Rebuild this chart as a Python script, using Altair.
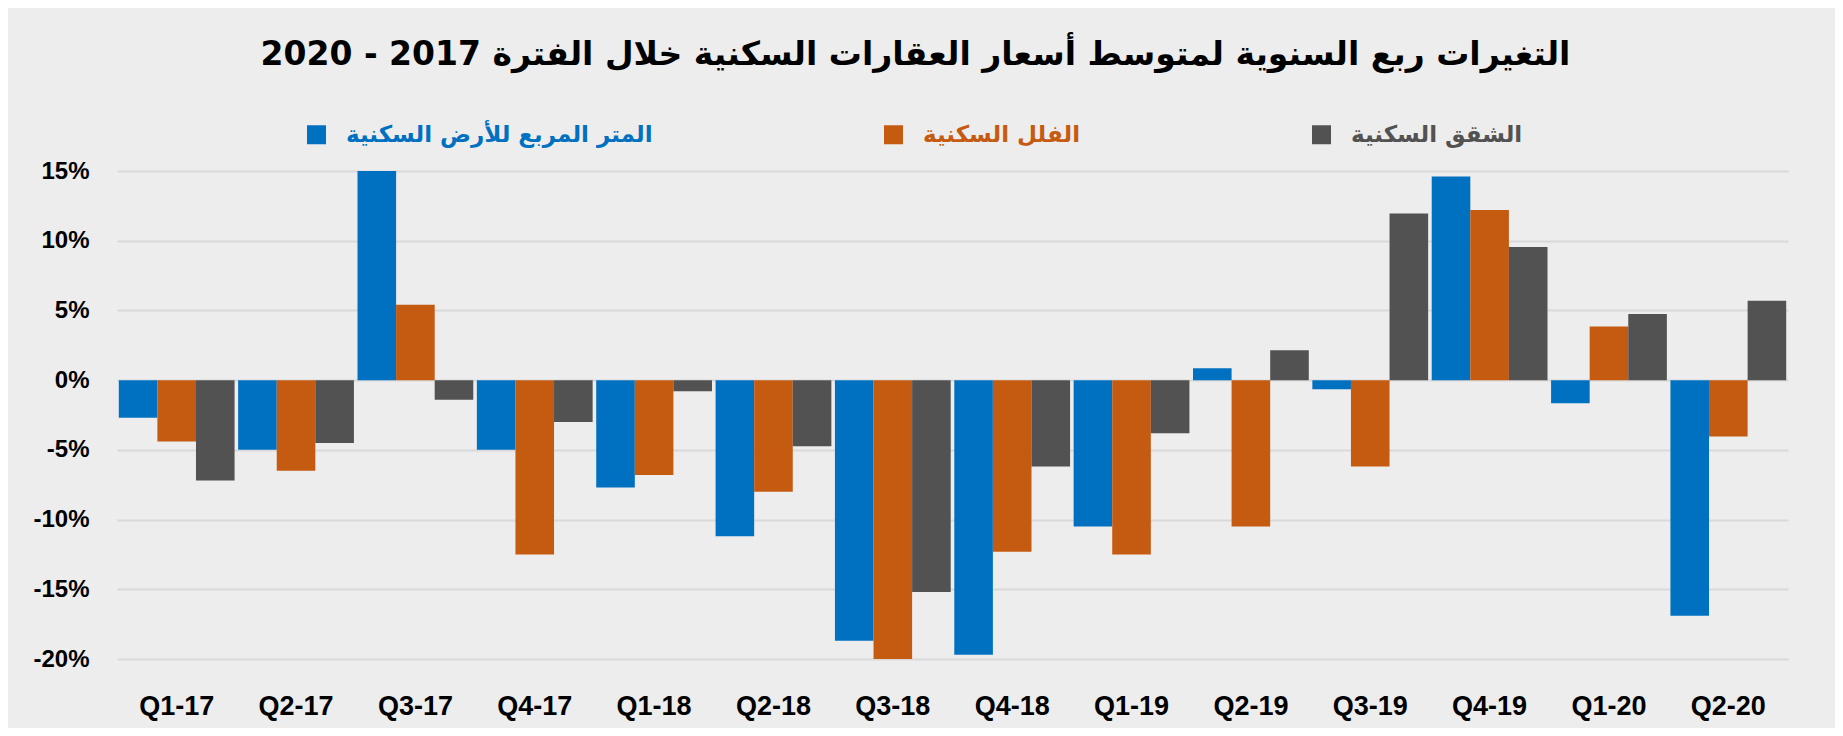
import altair as alt
import pandas as pd

quarters = ["Q1-17", "Q2-17", "Q3-17", "Q4-17", "Q1-18", "Q2-18", "Q3-18",
            "Q4-18", "Q1-19", "Q2-19", "Q3-19", "Q4-19", "Q1-20", "Q2-20"]
series = ["المتر المربع للأرض السكنية", "الفلل السكنية", "الشقق السكنية"]
land = [-2.7, -5.0, 15.0, -5.0, -7.7, -11.2, -18.7, -19.7, -10.5, 0.85, -0.65, 14.6, -1.65, -16.9]
villas = [-4.4, -6.5, 5.4, -12.5, -6.8, -8.0, -20.0, -12.3, -12.5, -10.5, -6.2, 12.2, 3.85, -4.05]
apartments = [-7.2, -4.5, -1.4, -3.0, -0.8, -4.75, -15.2, -6.2, -3.8, 2.15, 11.95, 9.55, 4.75, 5.7]
colors = ["#0070C0", "#C55A11", "#525252"]
y_ticks = [-20, -15, -10, -5, 0, 5, 10, 15]
title_text = "التغيرات ربع السنوية لمتوسط أسعار العقارات السكنية خلال الفترة 2017 - 2020"

rows = []
for name, vals in zip(series, [land, villas, apartments]):
    for q, v in zip(quarters, vals):
        rows.append({"quarter": q, "series": name, "value": v})
df = pd.DataFrame(rows)

label_color_expr = (
    f"datum.value == '{series[0]}' ? '{colors[0]}' : "
    f"datum.value == '{series[1]}' ? '{colors[1]}' : '{colors[2]}'"
)

chart = alt.Chart(df).mark_bar().encode(
    x=alt.X("quarter:N", sort=quarters,
            scale=alt.Scale(paddingInner=0.03, paddingOuter=0.015),
            axis=alt.Axis(title=None, labelAngle=0, labelFont="Liberation Sans",
                          labelFontWeight="bold", labelFontSize=27, labelColor="#000000",
                          labelPadding=34, ticks=False, domain=False, grid=False)),
    xOffset=alt.XOffset("series:N", sort=series,
                        scale=alt.Scale(paddingInner=0, paddingOuter=0)),
    y=alt.Y("value:Q", scale=alt.Scale(domain=[-20, 15], nice=False),
            axis=alt.Axis(title=None, values=y_ticks, labelExpr="datum.value + '%'",
                          labelFont="Liberation Sans", labelFontWeight="bold",
                          labelFontSize=24, labelColor="#000000", labelPadding=28,
                          ticks=False, domain=False, grid=True,
                          gridColor="#D9D9D9", gridWidth=2)),
    color=alt.Color("series:N", sort=series,
                    scale=alt.Scale(domain=series, range=colors),
                    legend=alt.Legend(title=None, orient="none", legendX=188, legendY=-48,
                                      direction="horizontal", columns=3,
                                      symbolType="square", symbolSize=361,
                                      symbolStrokeWidth=0, labelFont="DejaVu Sans",
                                      labelFontWeight="bold", labelFontSize=23,
                                      labelOffset=18, columnPadding=229, padding=0,
                                      labelLimit=1000,
                                      labelColor=alt.ExprRef(expr=label_color_expr))),
).properties(
    width=1671,
    height=488,
    autosize=alt.AutoSizeParams(type="none"),
    padding={"left": 109, "top": 163, "right": 47, "bottom": 69},
    title=alt.TitleParams(title_text, font="DejaVu Sans", fontSize=33,
                          fontWeight="bold", color="#000000", anchor="middle",
                          dx=-37, offset=51),
).configure(
    background="#EDEDED"
).configure_view(
    stroke=None
)

chart.save("out.html", embed_options={"renderer": "svg", "actions": False})
